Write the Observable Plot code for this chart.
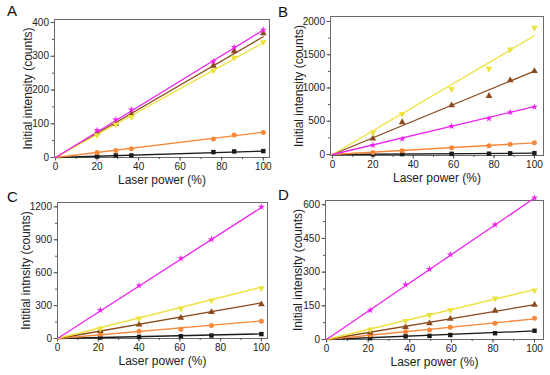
<!DOCTYPE html>
<html><head><meta charset="utf-8">
<script src="https://cdn.jsdelivr.net/npm/d3@7"></script>
<script src="https://cdn.jsdelivr.net/npm/@observablehq/plot@0.6"></script>
<style>
body{margin:0;background:#fff;font-family:"Liberation Sans",Arial,sans-serif}
#wrap{position:relative;width:550px;height:375px;overflow:hidden}
.panel{position:absolute}
.lab{position:absolute;font-size:15px;color:#111;font-family:"Liberation Sans",Arial,sans-serif}
</style></head>
<body><div id="wrap"></div>
<script>
// Series order: black squares, orange circles, brown up-triangles, yellow down-triangles, magenta stars
const seriesColors = ["#1a1a1a", "#f7883a", "#8a4a1c", "#ece23a", "#f024f0"];
const seriesSymbols = ["square", "circle", "triangle", "triangle", "star"];
const seriesRotate = [0, 0, 0, 180, 0];

const xTicks = [0, 20, 40, 60, 80, 100];
const xLabel = "Laser power (%)";

// Panel A
const xA = [20, 29, 36.5, 76, 86, 100];
const blackA = [3, 6, 6, 16, 18, 19];
const orangeA = [15, 21, 26, 55, 67, 74];
const brownA = [74, 100, 128, 272, 315, 368];
const yellowA = [66, 98, 120, 258, 296, 342];
const magentaA = [80, 112, 142, 285, 327, 378];
const fitA = [19, 75, 358, 340, 378];
const yTicksA = [0, 100, 200, 300, 400];

// Panel B
const xB = [20, 34.5, 59, 77.5, 88, 100];
const blackB = [3, 6, 10, 12, 18, 20];
const orangeB = [30, 55, 100, 130, 155, 175];
const brownB = [240, 485, 740, 880, 1115, 1255];
const yellowB = [330, 610, 985, 1290, 1580, 1905];
const magentaB = [140, 235, 425, 540, 635, 715];
const fitB = [20, 175, 1255, 1785, 720];
const yTicksB = [0, 500, 1000, 1500, 2000];

// Panel C
const xC = [21, 40, 60.5, 75.5, 100];
const blackC = [9, 15, 21, 27, 40];
const orangeC = [39, 67, 85, 118, 158];
const brownC = [67, 127, 188, 240, 312];
const yellowC = [91, 182, 273, 348, 458];
const magentaC = [258, 482, 730, 903, 1200];
const fitC = [42, 160, 325, 468, 1195];
const yTicksC = [0, 300, 600, 900, 1200];

// Panel D
const xD = [21, 38, 49.5, 59.5, 81, 100];
const blackD = [6, 14, 16, 20, 28, 39];
const orangeD = [20, 34, 42, 55, 72, 95];
const brownD = [31, 55, 72, 92, 128, 155];
const yellowD = [45, 83, 109, 130, 183, 219];
const magentaD = [130, 244, 313, 378, 511, 631];
const fitD = [38, 92, 155, 222, 630];
const yTicksD = [0, 150, 300, 450, 600];

const panels = [
  {letter: "A", left: 0, top: 0, width: 275, height: 187, m: [19, 6, 30, 54],
   xDom: [-0.5, 103], yDom: [0, 409], x: xA, ys: [blackA, orangeA, brownA, yellowA, magentaA], fit: fitA,
   yTicks: yTicksA, yLabel: "Initial intensity (counts)", ldx: -26, lx: 7, ly: 2},
  {letter: "B", left: 275, top: 0, width: 275, height: 187, m: [16, 7, 32, 55],
   xDom: [-1, 104.5], yDom: [-15, 2075], x: xB, ys: [blackB, orangeB, brownB, yellowB, magentaB], fit: fitB,
   yTicks: yTicksB, yLabel: "Initial intensity (counts)", ldx: -31, lx: 3, ly: 3},
  {letter: "C", left: 0, top: 185, width: 275, height: 190, m: [17, 8, 37, 57],
   xDom: [0, 103], yDom: [0, 1240], x: xC, ys: [blackC, orangeC, brownC, yellowC, magentaC], fit: fitC,
   yTicks: yTicksC, yLabel: "Intitial intnsity (counts)", ldx: -31, lx: 7, ly: 3},
  {letter: "D", left: 275, top: 185, width: 275, height: 190, m: [15, 7, 36, 50],
   xDom: [-0.5, 104.3], yDom: [0, 619], x: xD, ys: [blackD, orangeD, brownD, yellowD, magentaD], fit: fitD,
   yTicks: yTicksD, yLabel: "Initial intensity (counts)", ldx: -27, lx: 3, ly: 1}
];

const wrap = document.getElementById("wrap");
for (const p of panels) {
  const marks = [];
  const step = p.yTicks[1] - p.yTicks[0];
  const yMinor = d3.range(0, p.yTicks[p.yTicks.length - 1] + 1e-9, step / 2);
  const xMinor = d3.range(0, 101, 10);
  marks.push(Plot.frame({stroke: "#6a6a6a", strokeWidth: 1}));
  marks.push(Plot.axisX(xMinor, {tickSize: 2, stroke: "#555", tickFormat: () => "", label: null}));
  marks.push(Plot.axisY(yMinor, {tickSize: 2, stroke: "#555", tickFormat: () => "", label: null}));
  marks.push(Plot.axisX(xTicks, {tickSize: 3.5, tickPadding: 2, stroke: "#555", fill: "#222", fontSize: 10, tickFormat: d => String(d), label: null}));
  marks.push(Plot.axisY(p.yTicks, {tickSize: 3.5, tickPadding: 2, stroke: "#555", fill: "#222", fontSize: 10, tickFormat: d => String(d), label: null}));
  p.ys.forEach((ys, i) => {
    marks.push(Plot.line([{x: 0, y: 0}, {x: 100, y: p.fit[i]}], {x: "x", y: "y", stroke: seriesColors[i], strokeWidth: 1.3}));
  });
  p.ys.forEach((ys, i) => {
    const rows = ys.map((y, j) => ({x: p.x[j], y}));
    marks.push(Plot.dot(rows, {x: "x", y: "y", fill: seriesColors[i], stroke: "none",
      symbol: seriesSymbols[i], rotate: seriesRotate[i], r: i === 4 ? 2.2 : 2.5}));
  });
  marks.push(Plot.text([xLabel], {text: d => d, frameAnchor: "bottom", textAnchor: "middle", dy: 26, fontSize: 12, fill: "#222"}));
  marks.push(Plot.text([p.yLabel], {text: d => d, frameAnchor: "left", textAnchor: "middle", dx: p.ldx, rotate: -90, fontSize: 12, fill: "#222"}));

  const chart = Plot.plot({
    width: p.width, height: p.height,
    marginTop: p.m[0], marginRight: p.m[1], marginBottom: p.m[2], marginLeft: p.m[3],
    x: {domain: p.xDom, axis: null},
    y: {domain: p.yDom, axis: null},
    style: {fontFamily: '"Liberation Sans", Arial, sans-serif', background: "transparent", overflow: "visible"},
    marks
  });
  const div = document.createElement("div");
  div.className = "panel";
  div.style.left = p.left + "px";
  div.style.top = p.top + "px";
  div.appendChild(chart);
  wrap.appendChild(div);
  const lab = document.createElement("div");
  lab.className = "lab";
  lab.textContent = p.letter;
  lab.style.left = (p.left + p.lx) + "px";
  lab.style.top = (p.top + p.ly) + "px";
  wrap.appendChild(lab);
}
</script>
</body></html>
